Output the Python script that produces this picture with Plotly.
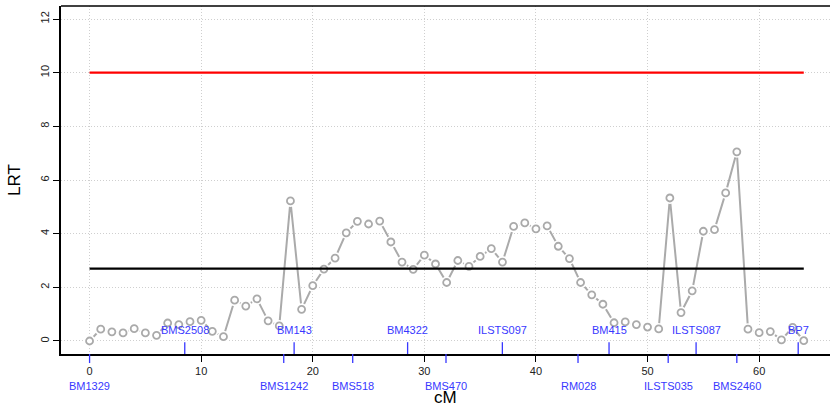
import plotly.graph_objects as go

# LRT profile along the chromosome (one test position per cM)
positions_cm = list(range(0, 65))
lrt_values = [
    0.00, 0.44, 0.34, 0.30, 0.46, 0.30, 0.21, 0.67, 0.61, 0.72,
    0.77, 0.36, 0.16, 1.52, 1.30, 1.57, 0.75, 0.56, 5.22, 1.18,
    2.06, 2.68, 3.09, 4.03, 4.46, 4.36, 4.47, 3.69, 2.94, 2.67,
    3.20, 2.87, 2.18, 3.00, 2.78, 3.15, 3.44, 2.94, 4.27, 4.40,
    4.18, 4.29, 3.53, 3.07, 2.18, 1.72, 1.37, 0.68, 0.71, 0.61,
    0.52, 0.45, 5.33, 1.06, 1.87, 4.09, 4.15, 5.52, 7.05, 0.44,
    0.31, 0.35, 0.04, 0.51, 0.01,
]

# genetic markers and their map positions (cM)
marker_names = [
    "BM1329", "BMS2508", "BMS1242", "BM143", "BMS518", "BM4322", "BMS470",
    "ILSTS097", "RM028", "BM415", "ILSTS035", "ILSTS087", "BMS2460", "BP7",
]
marker_cm = [0.0, 8.53, 17.4, 18.33, 23.58, 28.5, 31.94,
             36.99, 43.77, 46.55, 51.85, 54.35, 58.0, 63.5]

# significance thresholds
threshold_genome = 10.0
threshold_chrom = 2.7

x_ticks = [0, 10, 20, 30, 40, 50, 60]
y_ticks = [0, 2, 4, 6, 8, 10, 12]

FONT = "Liberation Sans, Arial, Helvetica, sans-serif"
GREY = "#aaaaaa"
BLUE = "#3838ff"

fig = go.Figure()

# connecting line
fig.add_trace(go.Scatter(
    x=positions_cm, y=lrt_values, mode="lines",
    line=dict(color=GREY, width=2), hoverinfo="skip", showlegend=False,
))
# white halo so the line stops short of each point
fig.add_trace(go.Scatter(
    x=positions_cm, y=lrt_values, mode="markers",
    marker=dict(color="white", size=12, line=dict(width=0)),
    hoverinfo="skip", showlegend=False,
))
# open circles
fig.add_trace(go.Scatter(
    x=positions_cm, y=lrt_values, mode="markers",
    marker=dict(color="white", size=7, line=dict(color=GREY, width=1.8)),
    showlegend=False,
))

x_end = positions_cm[-1]
fig.add_trace(go.Scatter(
    x=[0, x_end], y=[threshold_genome, threshold_genome], mode="lines",
    line=dict(color="#ff0000", width=2.2), showlegend=False,
))
fig.add_trace(go.Scatter(
    x=[0, x_end], y=[threshold_chrom, threshold_chrom], mode="lines",
    line=dict(color="black", width=2.2), showlegend=False,
))

# marker ticks and labels, alternating above / below the axis
shapes = []
annotations = []
for i, (name, pos) in enumerate(zip(marker_names, marker_cm)):
    above = i % 2 == 1
    if above:
        shapes.append(dict(type="line", xref="x", yref="paper", x0=pos, x1=pos,
                           y0=0, y1=0.034, line=dict(color=BLUE, width=1.3)))
        annotations.append(dict(x=pos, y=0, xref="x", yref="paper", text=name,
                                showarrow=False, yanchor="middle", yshift=24,
                                font=dict(family=FONT, size=11, color=BLUE)))
    else:
        shapes.append(dict(type="line", xref="x", yref="paper", x0=pos, x1=pos,
                           y0=0, y1=-0.026, line=dict(color=BLUE, width=1.3)))
        annotations.append(dict(x=pos, y=0, xref="x", yref="paper", text=name,
                                showarrow=False, yanchor="middle", yshift=-32,
                                font=dict(family=FONT, size=11, color=BLUE)))

# top border of the plotting box
shapes.append(dict(type="line", xref="paper", yref="paper", x0=0, x1=1,
                   y0=1, y1=1, line=dict(color="black", width=1.5)))

# axis titles
annotations.append(dict(x=0.5, y=0, xref="paper", yref="paper", text="cM",
                        showarrow=False, yanchor="middle", yshift=-43, xshift=0,
                        font=dict(family=FONT, size=17, color="black")))
annotations.append(dict(x=0, y=0.5, xref="paper", yref="paper", text="LRT",
                        showarrow=False, xanchor="center", xshift=-47, textangle=-90,
                        font=dict(family=FONT, size=17, color="black")))

fig.update_layout(
    width=830, height=404,
    margin=dict(l=61, r=0, t=6, b=50),
    paper_bgcolor="white", plot_bgcolor="white",
    font=dict(family=FONT, size=11, color="black"),
    shapes=shapes, annotations=annotations,
    showlegend=False,
)
grid_style = dict(showgrid=True, gridcolor="#cfcfcf", griddash="1px,2px", gridwidth=1)
fig.update_xaxes(
    range=[-2.56, 66.35], tickvals=x_ticks, ticks="outside", ticklen=6,
    tickwidth=1, tickcolor="black", showline=True, linecolor="black", linewidth=1.5,
    zeroline=False, tickfont=dict(family=FONT, size=11, color="#222222"), **grid_style,
)
fig.update_yaxes(
    range=[-0.485, 12.485], tickvals=y_ticks, ticks="outside", ticklen=6,
    tickwidth=1, tickcolor="black", showline=True, linecolor="black", linewidth=1.5,
    zeroline=False, tickangle=-90, tickfont=dict(family=FONT, size=11, color="#222222"),
    **grid_style,
)

fig.write_html("out.html")
